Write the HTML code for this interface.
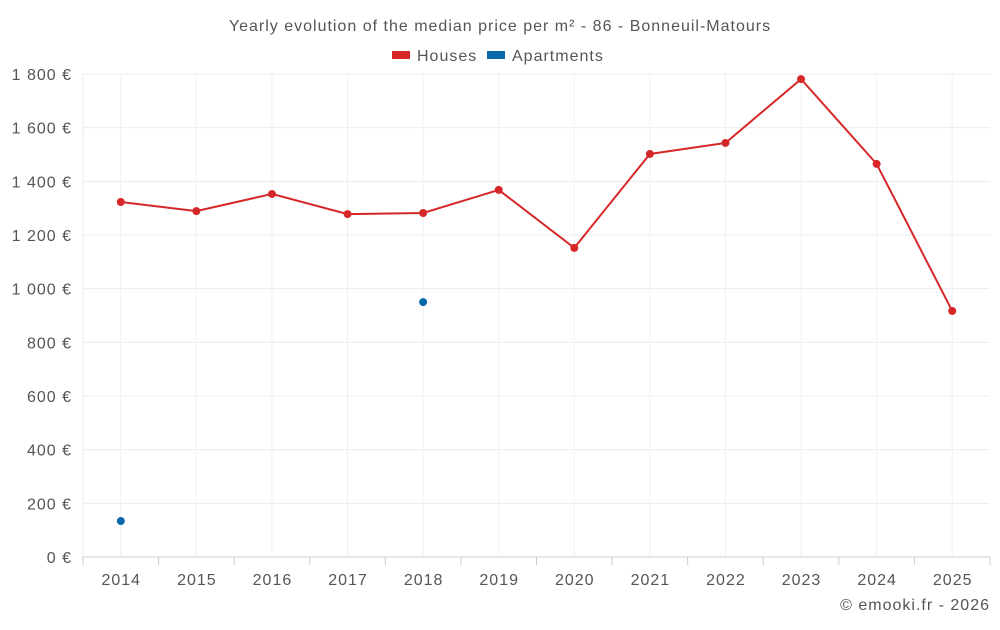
<!DOCTYPE html>
<html><head><meta charset="utf-8"><style>
body{margin:0;background:#fff;}
svg text{font-family:"Liberation Sans",sans-serif;fill:#555;letter-spacing:1px;}
</style></head><body>
<svg id="chart" width="1000" height="625">
<text x="500" y="31" text-anchor="middle" font-size="16">Yearly evolution of the median price per m² - 86 - Bonneuil-Matours</text>
<g><rect x="392" y="51" width="18" height="8" fill="#d62728"/><text x="417" y="61" font-size="16">Houses</text></g>
<g><rect x="487" y="51" width="18" height="8" fill="#0868ac"/><text x="512" y="61" font-size="16">Apartments</text></g>
<g id="grid"></g><g id="marks"></g>
<text x="990" y="610" text-anchor="end" font-size="16">© emooki.fr - 2026</text>
</svg>
<script>
const years=[2014,2015,2016,2017,2018,2019,2020,2021,2022,2023,2024,2025];
const houses=[1323,1289,1353,1278,1282,1368,1152,1502,1543,1781,1465,917];
const apartments=[134,null,null,null,950,null,null,null,null,null,null,null];
const yTicks=[0,200,400,600,800,1000,1200,1400,1600,1800];
const NS="http://www.w3.org/2000/svg";
const L=83,R=990,T=74,B=557,MAX=1800;
const step=(R-L)/years.length;
const x=i=>L+step*(i+0.5);
const y=v=>B-(v/MAX)*(B-T);
const grid=document.getElementById('grid'),marks=document.getElementById('marks');
function mk(tag,attrs,parent){const e=document.createElementNS(NS,tag);for(const k in attrs)e.setAttribute(k,attrs[k]);parent.appendChild(e);return e;}
yTicks.forEach(v=>{
  const l=mk('line',{x1:L,x2:R,y1:y(v),y2:y(v),stroke:v===0?'#ccc':'#ececec'},grid);
  
  
  const t=mk('text',{x:72,y:y(v)+6,'text-anchor':'end','font-size':16},grid);
  t.textContent=(v>=1000?Math.floor(v/1000)+' '+String(v%1000).padStart(3,'0'):v)+' €';
  
  
});
mk('line',{x1:L,x2:L,y1:T,y2:B,stroke:'#ececec'},grid);
years.forEach((yr,i)=>{
  const l=mk('line',{x1:x(i),x2:x(i),y1:T,y2:B,stroke:'#f0f0f0'},grid);
  
  
  mk('line',{x1:L+step*i,x2:L+step*i,y1:B,y2:B+8,stroke:'#ccc'},grid);
  const t=mk('text',{x:x(i)+0.5,y:585,'text-anchor':'middle','font-size':16},grid);
  t.textContent=yr;
  
  
});
mk('line',{x1:R,x2:R,y1:B,y2:B+8,stroke:'#ccc'},grid);
const p=mk('polyline',{points:houses.map((v,i)=>x(i)+','+y(v)).join(' '),fill:'none',stroke:'#d62728','stroke-width':2},marks);


houses.forEach((v,i)=>{
  const c=mk('circle',{cx:x(i),cy:y(v),r:4,fill:'#d62728'},marks);
  
  
});
apartments.forEach((v,i)=>{
  if(v==null)return;
  const c=mk('circle',{cx:x(i),cy:y(v),r:4,fill:'#0868ac'},marks);
  
  
});
</script>
</body></html>
